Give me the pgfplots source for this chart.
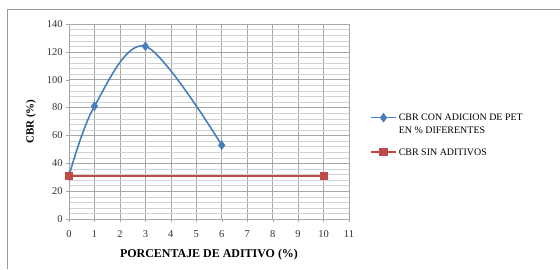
\documentclass[border=0pt]{standalone}
\usepackage{pgfplots}
\pgfplotsset{compat=1.18}
\usepackage{fontspec}
\setmainfont{Liberation Serif}
\definecolor{xlblue}{RGB}{74,126,187}
\definecolor{xlred}{RGB}{190,75,72}
\newcommand{\rs}{\rule[-3bp]{0pt}{10.5bp}}
\begin{document}
\begin{tikzpicture}[x=1bp,y=1bp]
\path[use as bounding box] (0,0) rectangle (560,269);
\draw[gray!80,line width=0.8bp] (7,0) -- (7,260) -- (560,260);
\begin{axis}[
  at={(69bp,50bp)}, anchor=origin,
  scale only axis, width=280bp, height=195bp,
  xmin=0, xmax=11, ymin=0, ymax=140,
  xtick={0,1,...,11}, ytick={0,20,...,140},
  minor y tick num=4,
  grid=both,
  major grid style={gray!70, line width=0.5bp},
  minor grid style={gray!35, line width=0.4bp},
  axis x line=bottom, axis y line=left,
  axis line style={-, gray!70},
  tick style={gray!70}, minor tick length=0pt,
  tick align=outside, major tick length=3bp,
  tick label style={font=\fontsize{10.5}{12}\selectfont, text=black!80},
  xticklabel style={yshift=-5bp},
  /pgf/number format/assume math mode=true,
  xlabel={\textbf{PORCENTAJE DE ADITIVO (\%)}},
  ylabel={\textbf{CBR (\%)}},
  xlabel style={font=\fontsize{12}{14}\selectfont, yshift=-5bp},
  ylabel style={font=\fontsize{11}{13}\selectfont, yshift=4bp},
  clip=false,
  legend style={at={(298bp,110bp)}, anchor=north west, draw=none, fill=none,
    font=\fontsize{10}{12}\selectfont, row sep=0bp,
    nodes={inner sep=2bp},
    cells={anchor=west}},
  legend image code/.code={%
    \draw[mark repeat=2,mark phase=2,#1] plot coordinates {(0bp,0bp) (12.5bp,0bp) (25bp,0bp)};},
]
\addplot[xlblue, line width=1.6bp, smooth, tension=0.55, mark=diamond*, mark size=3.5bp, mark options={fill=xlblue}]
  coordinates {(0,31) (1,81) (3,124) (6,53)};
\addlegendentry{\rs CBR CON ADICION DE PET}
\addlegendimage{empty legend}
\addlegendentry{\rs EN \% DIFERENTES}
\addlegendimage{empty legend}
\addlegendentry{\rule{0pt}{3bp}}
\addplot[xlred, line width=1.6bp, mark=square*, mark size=3.2bp, mark options={fill=xlred}]
  coordinates {(0,31) (10,31)};
\addlegendentry{\rs CBR SIN ADITIVOS}
\end{axis}
\end{tikzpicture}
\end{document}
